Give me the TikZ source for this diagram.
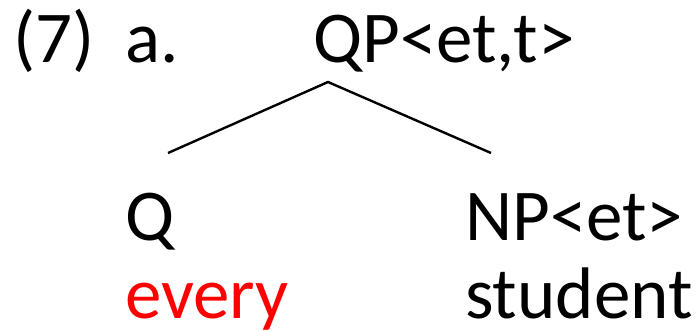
\documentclass[tikz,border=0pt]{standalone}
\usepackage{fontspec}
\setmainfont{Carlito}
\usepackage{tikz}
\tikzstyle{word} = [anchor=base west, inner sep=0pt, font=\fontsize{73}{78}\selectfont]
\tikzstyle{branch} = [line width=2.4pt]

\begin{document}
\begin{tikzpicture}
\useasboundingbox (0,0) rectangle (698pt,-330pt);
\node (num) [word] at (13pt,-62pt) {(7)};
\node (ex) [word] at (125pt,-62pt) {a.};
\node (qp) [word] at (313pt,-62pt) {QP<et,t>};
\node (q) [word] at (125pt,-240pt) {Q};
\node (every) [word, text=red] at (125pt,-318pt) {every};
\node (np) [word] at (465pt,-240pt) {NP<et>};
\node (student) [word] at (465pt,-318pt) {student};
% branch ends
\coordinate (apex) at ([xshift=15pt, yshift=-20pt]qp.base west);
\coordinate (qtop) at ([xshift=43pt, yshift=87pt]q.base west);
\coordinate (nptop) at ([xshift=26pt, yshift=87pt]np.base west);
\draw [branch] (qtop) -- (apex) -- (nptop);
\end{tikzpicture}
\end{document}
